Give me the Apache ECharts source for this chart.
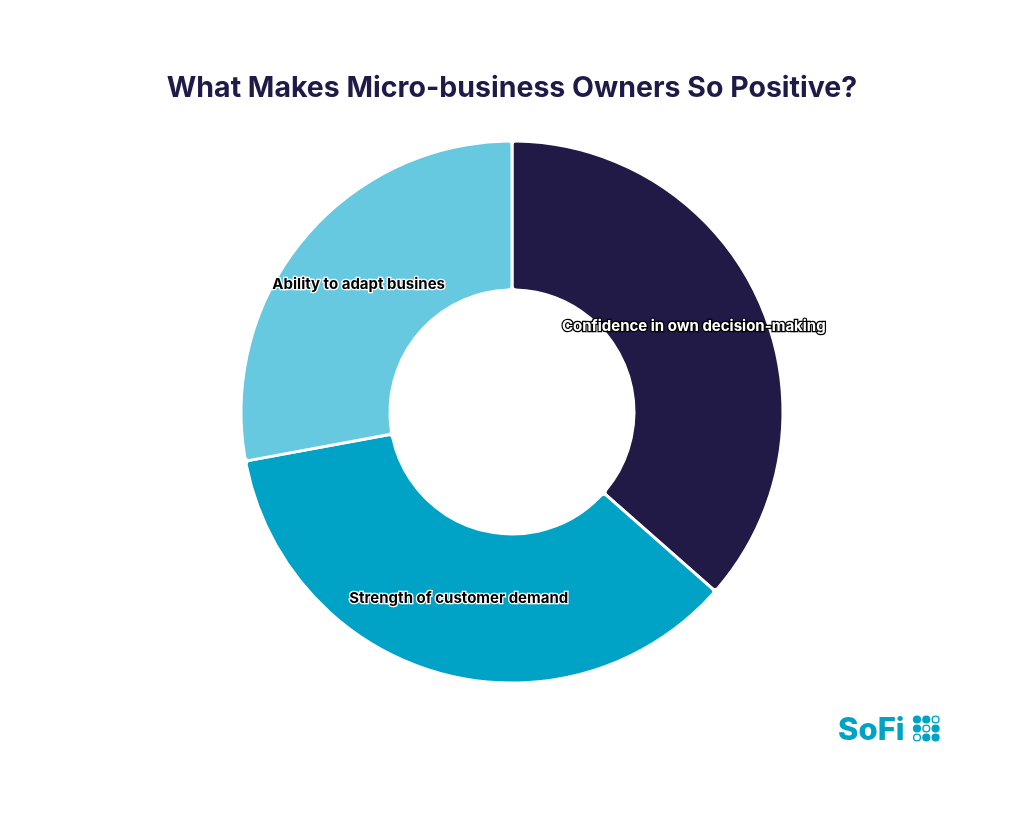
<!DOCTYPE html>
<html><head><meta charset="utf-8">
<script src="https://cdn.jsdelivr.net/npm/echarts@6/dist/echarts.min.js"></script>
<style>html,body{margin:0;padding:0;background:#fff}#c{width:1024px;height:818px}</style>
</head><body><div id="c"></div>
<script>
const categories = ['Confidence in own decision-making', 'Strength of customer demand', 'Ability to adapt busines'];
const values = [36.5, 35.6, 27.9];
const colors = ['#211946', '#00A3C6', '#66C9E0'];
const labelColors = ['#ffffff', '#000000', '#000000'];
const labelBorders = ['#000000', '#ffffff', '#ffffff'];
const labelOffsets = [[0, -3], [0, -6], [0, 0]];

const chart = echarts.init(document.getElementById('c'));
const dots = [
  [0,0,1],[1,0,1],[2,0,0],
  [0,1,1],[1,1,0],[2,1,1],
  [0,2,0],[1,2,1],[2,2,1]
];
const dotEls = dots.map(d => ({
  type: 'circle',
  shape: { cx: 917 + d[0]*9.3, cy: 719.5 + d[1]*9.0, r: d[2] ? 4.1 : 3.4 },
  style: d[2] ? { fill: '#00A3C6' } : { fill: '#fff', stroke: '#00A3C6', lineWidth: 1.4 }
}));
chart.setOption({
  animation: false,
  title: {
    text: 'What Makes Micro-business Owners So Positive?',
    left: 'center', top: 69,
    textStyle: { fontFamily: 'Inter', fontWeight: 700, fontSize: 28.5, color: '#1F1A48' }
  },
  graphic: [
    { type: 'text', left: 838, top: 715, style: { text: 'SoFi', fill: '#00A3C6', font: '800 31px Inter' } }
  ].concat(dotEls),
  series: [{
    type: 'pie',
    center: [512, 412],
    radius: [122, 271],
    startAngle: 90,
    clockwise: true,
    avoidLabelOverlap: false,
    itemStyle: { borderColor: '#ffffff', borderWidth: 3, borderRadius: 4 },
    label: {
      show: true, position: 'inside',
      fontFamily: 'Inter', fontWeight: 700, fontSize: 15,
      textBorderWidth: 2.5
    },
    labelLine: { show: false },
    emphasis: { disabled: true },
    data: categories.map((c, i) => ({
      name: c, value: values[i],
      itemStyle: { color: colors[i] },
      label: { color: labelColors[i], textBorderColor: labelBorders[i], offset: labelOffsets[i] }
    }))
  }]
});
</script></body></html>
